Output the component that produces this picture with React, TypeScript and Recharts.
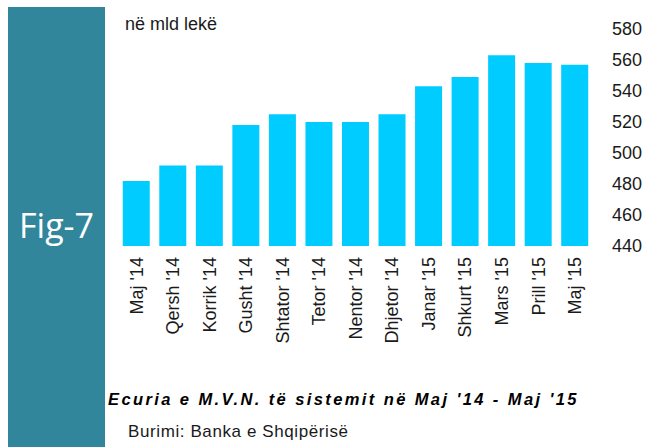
import React from 'react';
import { BarChart, Bar, XAxis, YAxis } from 'recharts';

const months = [
  "Maj '14",
  "Qersh '14",
  "Korrik '14",
  "Gusht '14",
  "Shtator '14",
  "Tetor '14",
  "Nentor '14",
  "Dhjetor '14",
  "Janar '15",
  "Shkurt '15",
  "Mars '15",
  "Prill '15",
  "Maj '15",
];
const deposits = [482, 492, 492, 518, 525, 520, 520, 525, 543, 549, 563, 558, 557];
const yTicks = [440, 460, 480, 500, 520, 540, 560, 580];

const data = months.map((m, i) => ({ month: m, value: deposits[i] }));

const FONT = '"Liberation Sans", Arial, sans-serif';

function MonthTick(props: any) {
  const { x, y, payload } = props;
  return (
    <g transform={`translate(${x},${y})`}>
      <text
        transform="rotate(-90)"
        x={-3}
        y={0}
        dy="0.35em"
        textAnchor="end"
        fontSize={18}
        fontFamily={FONT}
        fill="#1a1a1a"
      >
        {payload.value}
      </text>
    </g>
  );
}

export default function App() {
  return (
    <div
      style={{
        position: 'absolute',
        left: 0,
        top: 0,
        width: 657,
        height: 447,
        background: '#fff',
        overflow: 'hidden',
      }}
    >
      <div
        style={{
          position: 'absolute',
          left: 8,
          top: 7,
          width: 97,
          height: 440,
          background: '#31869b',
        }}
      />
      <div
        style={{
          position: 'absolute',
          left: 8,
          top: 205,
          width: 97,
          textAlign: 'center',
          color: '#fff',
          fontFamily: '"Open Sans", "Noto Sans", sans-serif',
          fontSize: 34,
          lineHeight: '40px',
        }}
      >
        Fig-7
      </div>
      <div
        style={{
          position: 'absolute',
          left: 125,
          top: 14,
          fontFamily: FONT,
          fontSize: 18,
          color: '#1a1a1a',
        }}
      >
        në mld lekë
      </div>
      <div style={{ position: 'absolute', left: 0, top: 0 }}>
        <BarChart
          width={657}
          height={447}
          data={data}
          margin={{ top: 29, right: 0, left: 118, bottom: 101 }}
          barCategoryGap="13%"
        >
          <XAxis
            dataKey="month"
            axisLine={false}
            tickLine={false}
            interval={0}
            height={100}
            tick={<MonthTick />}
          />
          <YAxis
            orientation="right"
            domain={[440, 580]}
            ticks={yTicks}
            axisLine={false}
            tickLine={false}
            tickMargin={13}
            width={64}
            tick={{ fontSize: 18, fontFamily: FONT, fill: '#1a1a1a', textAnchor: 'start' }}
          />
          <Bar dataKey="value" fill="#00ccff" isAnimationActive={false} />
        </BarChart>
      </div>
      <div
        style={{
          position: 'absolute',
          left: 108,
          top: 390,
          fontFamily: FONT,
          fontSize: 16.5,
          fontWeight: 'bold',
          fontStyle: 'italic',
          letterSpacing: 2.4,
          color: '#000',
          whiteSpace: 'nowrap',
        }}
      >
        Ecuria e M.V.N. të sistemit në Maj '14 - Maj '15
      </div>
      <div
        style={{
          position: 'absolute',
          left: 128,
          top: 422,
          fontFamily: FONT,
          fontSize: 17,
          letterSpacing: 0.6,
          color: '#1a1a1a',
          whiteSpace: 'nowrap',
        }}
      >
        Burimi: Banka e Shqipërisë
      </div>
    </div>
  );
}
